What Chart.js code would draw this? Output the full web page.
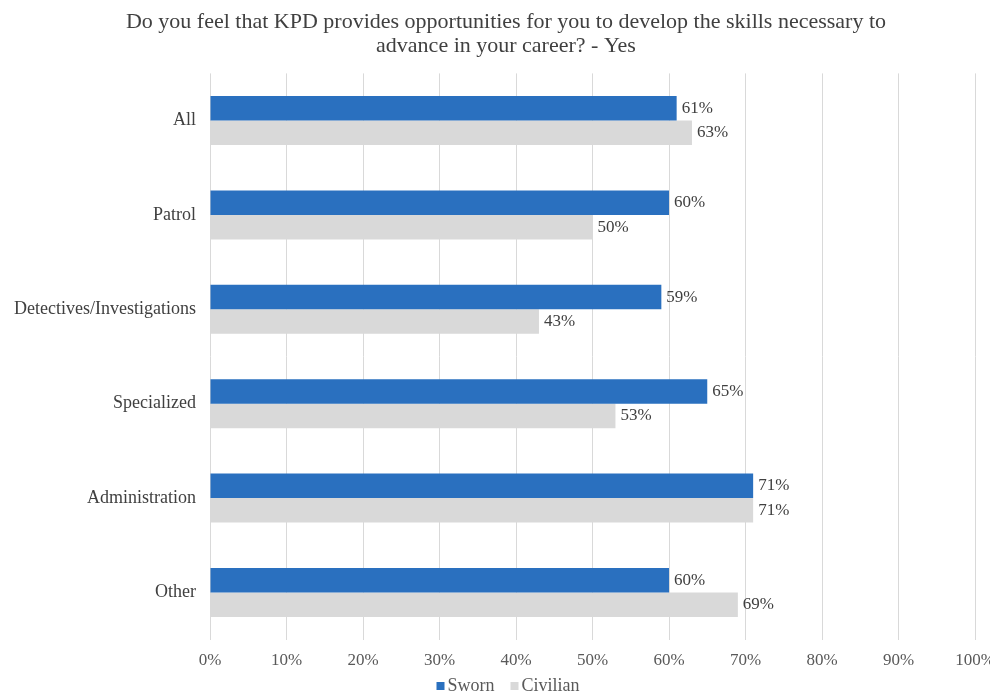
<!DOCTYPE html>
<html>
<head>
<meta charset="utf-8">
<script src="https://cdn.jsdelivr.net/npm/chart.js@4/dist/chart.umd.min.js"></script>
<style>
    body { margin: 0; overflow: hidden; background: #fff; }
    #wrap { width: 1012px; height: 694px; }
</style>
</head>
<body>
<div id="wrap"><canvas id="chart"></canvas></div>
<script>
// chart data
const categories = ['All', 'Patrol', 'Detectives/Investigations', 'Specialized', 'Administration', 'Other'];
const swornValues = [61, 60, 59, 65, 71, 60];
const civilianValues = [63, 50, 43, 53, 71, 69];
const titleLines = ['Do you feel that KPD provides opportunities for you to develop the skills necessary to', 'advance in your career? - Yes'];

const serif = "'Liberation Serif', 'Times New Roman', serif";

// draws the value labels at the end of each bar
const valueLabels = {
    id: 'valueLabels',
    afterDatasetsDraw(chart) {
        const ctx = chart.ctx;
        ctx.save();
        ctx.font = '17px ' + serif;
        ctx.fillStyle = '#404040';
        ctx.textBaseline = 'middle';
        chart.data.datasets.forEach((ds, i) => {
            chart.getDatasetMeta(i).data.forEach((bar, j) => {
                ctx.fillText(ds.data[j] + '%', bar.x + 5, bar.y);
            });
        });
        ctx.restore();
    }
};

// small legend at the bottom, square sits right against the text
const bottomLegend = {
    id: 'bottomLegend',
    afterDraw(chart) {
        const ctx = chart.ctx;
        const box = 8, gap = 3, spacing = 16;
        ctx.save();
        ctx.font = '18px ' + serif;
        ctx.textBaseline = 'middle';
        const items = chart.data.datasets.map(ds => ({
            text: ds.label,
            color: ds.backgroundColor,
            w: box + gap + ctx.measureText(ds.label).width
        }));
        const total = items.reduce((s, it) => s + it.w, 0) + spacing * (items.length - 1);
        let x = 508 - total / 2;
        const y = 686;
        items.forEach(it => {
            ctx.fillStyle = it.color;
            ctx.fillRect(x, y - box / 2, box, box);
            ctx.fillStyle = '#595959';
            ctx.fillText(it.text, x + box + gap, y);
            x += it.w + spacing;
        });
        ctx.restore();
    }
};

new Chart(document.getElementById('chart'), {
    type: 'bar',
    data: {
        labels: categories,
        datasets: [{
            label: 'Sworn',
            data: swornValues,
            backgroundColor: '#2a70bf'
        }, {
            label: 'Civilian',
            data: civilianValues,
            backgroundColor: '#d9d9d9'
        }]
    },
    options: {
        indexAxis: 'y',
        responsive: true,
        maintainAspectRatio: false,
        animation: false,
        datasets: {
            bar: {
                categoryPercentage: 0.52,
                barPercentage: 1
            }
        },
        layout: {
            padding: { top: 10, right: 0, left: 0, bottom: 12 }
        },
        plugins: {
            title: {
                display: true,
                text: titleLines,
                color: '#404040',
                font: { family: serif, size: 22, weight: 'normal', lineHeight: 1.1 },
                padding: { top: 0, bottom: 15 }
            },
            legend: { display: false },
            tooltip: { enabled: false }
        },
        scales: {
            x: {
                min: 0,
                max: 100,
                ticks: {
                    stepSize: 10,
                    color: '#595959',
                    font: { family: serif, size: 17 },
                    padding: 11,
                    callback: v => v + '%'
                },
                grid: { color: '#d9d9d9', lineWidth: 1, drawTicks: false },
                border: { display: false }
            },
            y: {
                ticks: {
                    color: '#404040',
                    font: { family: serif, size: 18 },
                    padding: 14
                },
                grid: { display: false, drawTicks: false },
                border: { display: false },
                afterFit(scale) {
                    scale.width = 210;
                }
            },
            // empty axis on the right, only keeps the plot off the edge
            yRight: {
                type: 'category',
                position: 'right',
                ticks: { display: false },
                grid: { display: false, drawTicks: false },
                border: { display: false },
                afterFit(scale) {
                    scale.width = 37;
                }
            }
        }
    },
    plugins: [valueLabels, bottomLegend]
});
</script>
</body>
</html>
